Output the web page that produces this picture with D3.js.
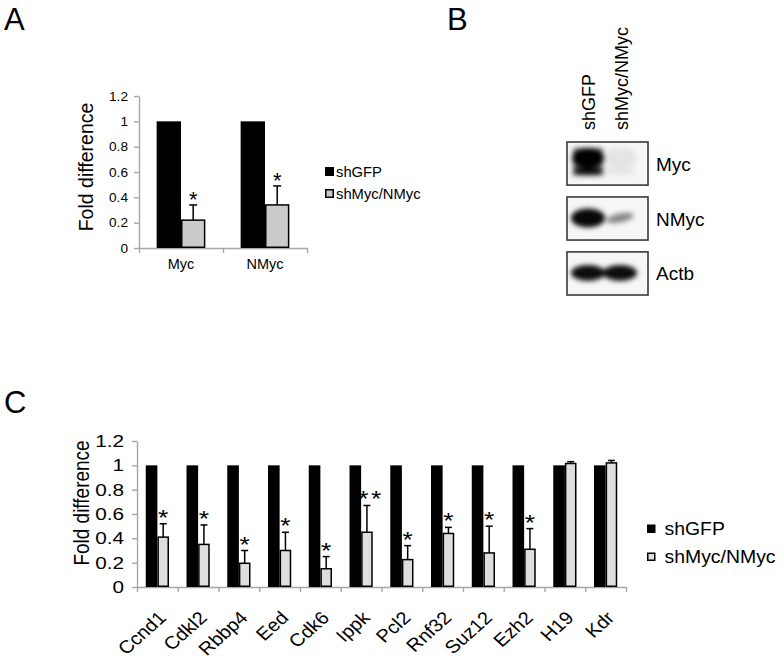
<!DOCTYPE html>
<html><head><meta charset="utf-8">
<script src="https://cdn.jsdelivr.net/npm/d3@7"></script>
<style>
body{margin:0;background:#fff}
text{font-family:"Liberation Sans",Arial,Helvetica,sans-serif;fill:#000}
</style>
</head><body>
<svg id="chart" width="782" height="656"></svg>
<script>
// ---------- data ----------
const seriesNames = ["shGFP", "shMyc/NMyc"];
const yTickValues = [0, 0.2, 0.4, 0.6, 0.8, 1, 1.2];
const yTickLabels = ["0", "0.2", "0.4", "0.6", "0.8", "1", "1.2"];

// Panel A
const aCategories = ["Myc", "NMyc"];
const aShGFP = [1, 1];
const aShMyc = [0.22, 0.34];
const aShMycErr = [0.12, 0.15];
const aSig = ["*", "*"];

// Panel C
const cCategories = ["Ccnd1","Cdkl2","Rbbp4","Eed","Cdk6","Ippk","Pcl2","Rnf32","Suz12","Ezh2","H19","Kdr"];
const cShGFP = [1,1,1,1,1,1,1,1,1,1,1,1];
const cShMyc = [0.41,0.35,0.195,0.30,0.15,0.45,0.225,0.44,0.28,0.31,1.015,1.02];
const cShMycErr = [0.11,0.16,0.105,0.15,0.10,0.22,0.115,0.05,0.22,0.17,0.015,0.02];
const cSig = ["*","*","*","*","*","**","*","*","*","*","",""];

// Panel B (western blot)
const blotLanes = ["shGFP", "shMyc/NMyc"];
const blotProteins = ["Myc", "NMyc", "Actb"];
const blotIntensity = [[1.0, 0.05], [0.97, 0.45], [0.95, 0.95]];

// ---------- drawing ----------
const svg = d3.select("#chart");
const FONT = '"Liberation Sans",Arial,Helvetica,sans-serif';
const axisColor = "#a6a6a6";

function panelLetter(t, x, y) {
  svg.append("text").attr("x", x).attr("y", y).attr("font-size", 31).text(t);
}
panelLetter("A", 4, 30);
panelLetter("B", 447, 30);
panelLetter("C", 4, 413);

function barPanel(o) {
  const g = svg.append("g");
  const x = d3.scaleBand().domain(o.categories).range([o.x0, o.x1]);
  const y = d3.scaleLinear().domain([0, 1.2]).range([o.y0, o.y1]);
  const bw = x.bandwidth() * o.barFrac;
  const sx = o.sx;

  // y axis
  const ya = g.append("g").attr("transform", `translate(${o.x0},0)`)
    .call(d3.axisLeft(y).tickValues(yTickValues).tickFormat((d, i) => yTickLabels[i]).tickSize(5).tickSizeOuter(0));
  ya.select(".domain").attr("stroke", axisColor).attr("stroke-width", 1.4);
  ya.selectAll(".tick line").attr("stroke", axisColor).attr("stroke-width", 1.4);
  ya.selectAll(".tick text").attr("x", null).attr("font-family", FONT).attr("font-size", o.tickFont)
    .attr("fill", "#000").attr("transform", `translate(${-5 - o.tickPad},0) scale(${o.tickSx},1)`);

  // x axis (category boundaries)
  const xb = d3.scaleLinear().domain([0, o.categories.length]).range([o.x0, o.x1]);
  const xa = g.append("g").attr("transform", `translate(0,${o.y0})`)
    .call(d3.axisBottom(xb).tickValues(d3.range(o.categories.length + 1)).tickFormat("").tickSize(5).tickSizeOuter(0));
  xa.select(".domain").attr("stroke", axisColor).attr("stroke-width", 1.6);
  xa.selectAll(".tick line").attr("stroke", axisColor).attr("stroke-width", 1.4);

  // bars
  g.selectAll(".b1").data(o.s1).join("rect")
    .attr("x", (d, i) => x(o.categories[i]) + x.bandwidth() / 2 - bw)
    .attr("y", d => y(d)).attr("width", bw).attr("height", d => y(0) - y(d))
    .attr("fill", "#000");
  g.selectAll(".b2").data(o.s2).join("rect")
    .attr("x", (d, i) => x(o.categories[i]) + x.bandwidth() / 2 + 0.75)
    .attr("y", d => y(d)).attr("width", bw - 1.5).attr("height", d => y(0) - y(d) - 0.75)
    .attr("fill", o.gray).attr("stroke", "#000").attr("stroke-width", 1.5);

  // error bars (upper)
  const cx = i => x(o.categories[i]) + x.bandwidth() / 2 + bw / 2;
  o.s2.forEach((v, i) => {
    const top = y(v + o.err[i]);
    g.append("line").attr("x1", cx(i)).attr("x2", cx(i)).attr("y1", y(v)).attr("y2", top)
      .attr("stroke", "#000").attr("stroke-width", 1.5);
    g.append("line").attr("x1", cx(i) - o.cap).attr("x2", cx(i) + o.cap).attr("y1", top).attr("y2", top)
      .attr("stroke", "#000").attr("stroke-width", 1.5);
    if (o.sig[i]) {
      g.append("text").attr("text-anchor", "middle").attr("font-size", o.starFont)
        .attr("letter-spacing", o.sig[i].length > 1 ? 2 : 0)
        .attr("transform", `translate(${cx(i) + (o.sig[i].length > 1 ? 4 : 0)},${top + o.starOff}) scale(${sx},1)`)
        .text(o.sig[i]);
    }
  });

  // category labels
  o.categories.forEach((c, i) => {
    const xc = x(c) + x.bandwidth() / 2;
    const t = g.append("text").attr("font-size", o.catFont).text(c);
    if (o.rotate) {
      t.attr("text-anchor", "end")
        .attr("transform", `translate(${xc + o.catDx},${o.catY}) scale(${o.catSx},1) rotate(-45)`);
    } else {
      t.attr("text-anchor", "middle").attr("transform", `translate(${xc},${o.catY}) scale(${o.catSx},1)`);
    }
  });

  // y title
  g.append("text").attr("text-anchor", "middle").attr("font-size", o.titleFont)
    .attr("transform", `translate(${o.titleX},${(o.y0 + o.y1) / 2 + o.titleDy}) scale(${sx},1) rotate(-90)`)
    .text("Fold difference");

  // legend
  seriesNames.forEach((s, i) => {
    const ly = o.legY + i * o.legStep;
    g.append("rect").attr("x", o.legX + 0.75).attr("y", ly - o.legBox + 0.75)
      .attr("width", o.legBox - 1.5).attr("height", o.legBox - 1.5)
      .attr("fill", i === 0 ? "#000" : o.gray).attr("stroke", "#000").attr("stroke-width", 1.5);
    g.append("text").attr("font-size", o.legFont)
      .attr("transform", `translate(${o.legX + o.legBox + o.legGap},${ly + o.legTextDy}) scale(${o.legSx},1)`)
      .text(s);
  });
}

barPanel({
  categories: aCategories, s1: aShGFP, s2: aShMyc, err: aShMycErr, sig: aSig,
  x0: 139, x1: 307, y0: 248, y1: 96, barFrac: 0.29, sx: 1, cap: 4, gray: "#cbcbcb",
  tickFont: 13, tickSx: 1.05, tickPad: 6, catFont: 14.5, catSx: 1, catY: 269, rotate: false,
  titleFont: 19.5, titleX: 93, titleDy: -5, starFont: 22, starOff: 2,
  legX: 325, legY: 176, legStep: 22, legBox: 9, legGap: 2, legFont: 14.5, legSx: 1.02, legTextDy: 1
});

barPanel({
  categories: cCategories, s1: cShGFP, s2: cShMyc, err: cShMycErr, sig: cSig,
  x0: 137, x1: 626, y0: 587, y1: 441, barFrac: 0.285, sx: 1.2, cap: 3.5, gray: "#dedede",
  tickFont: 17, tickSx: 1.22, tickPad: 8, catFont: 18, catSx: 1.12, catY: 619, catDx: 10, rotate: true,
  titleFont: 19, titleX: 89, titleDy: -11, starFont: 22, starOff: 1,
  legX: 647, legY: 533, legStep: 28, legBox: 8.5, legGap: 9, legFont: 18.5, legSx: 1.05, legTextDy: 2
});

// ---------- Panel B: western blot ----------
const defs = svg.append("defs");
defs.append("filter").attr("id", "blur").attr("x", "-50%").attr("y", "-50%").attr("width", "200%").attr("height", "200%")
  .append("feGaussianBlur").attr("stdDeviation", 2.6);
const bx = d3.scaleBand().domain(blotLanes).range([572, 636]);
const by = d3.scaleBand().domain(blotProteins).range([142, 295]).paddingInner(11 / 51);
const boxX0 = 567, boxX1 = 648;

blotLanes.forEach((l, i) => {
  svg.append("text").attr("font-size", 18)
    .attr("transform", `translate(${bx(l) + bx.bandwidth() / 2 + (i === 0 ? 7 : 8)},130) rotate(-90)`)
    .text(l);
});

blotProteins.forEach((p, r) => {
  const y0 = by(p), h = by.bandwidth();
  const clipId = "clip" + r;
  defs.append("clipPath").attr("id", clipId).append("rect")
    .attr("x", boxX0).attr("y", y0).attr("width", boxX1 - boxX0).attr("height", h);
  const g = svg.append("g").attr("clip-path", `url(#${clipId})`);
  g.append("rect").attr("x", boxX0).attr("y", y0).attr("width", boxX1 - boxX0).attr("height", h).attr("fill", "#f6f6f6");
  const bands = g.append("g").attr("filter", "url(#blur)");
  blotLanes.forEach((l, i) => {
    const cx = bx(l) + bx.bandwidth() / 2;
    const a = blotIntensity[r][i];
    if (p === "Myc") {
      bands.append("ellipse").attr("cx", cx).attr("cy", y0 + 16).attr("rx", 16).attr("ry", 10).attr("fill", "#000").attr("opacity", a);
      bands.append("ellipse").attr("cx", cx).attr("cy", y0 + 29).attr("rx", 15).attr("ry", 3.5).attr("fill", "#000").attr("opacity", a * 0.9);
      bands.append("rect").attr("x", cx - 15).attr("y", y0 + 6).attr("width", 30).attr("height", 28).attr("fill", "#000").attr("opacity", a * 0.55);
    } else if (p === "NMyc") {
      const rx = i === 0 ? 17 : 14, ry = i === 0 ? 9.5 : 4.5;
      bands.append("ellipse").attr("cx", cx).attr("cy", y0 + 21).attr("rx", rx).attr("ry", ry)
        .attr("transform", i === 1 ? `rotate(-12,${cx},${y0 + 21})` : null)
        .attr("fill", "#000").attr("opacity", a);
    } else {
      bands.append("ellipse").attr("cx", cx).attr("cy", y0 + 21).attr("rx", 17).attr("ry", 8).attr("fill", "#000").attr("opacity", a);
    }
  });
  svg.append("rect").attr("x", boxX0).attr("y", y0).attr("width", boxX1 - boxX0).attr("height", h)
    .attr("fill", "none").attr("stroke", "#3a3a3a").attr("stroke-width", 1.6);
  svg.append("text").attr("x", 656).attr("y", y0 + h / 2 + 7).attr("font-size", 19).text(p);
});
</script>
</body></html>
